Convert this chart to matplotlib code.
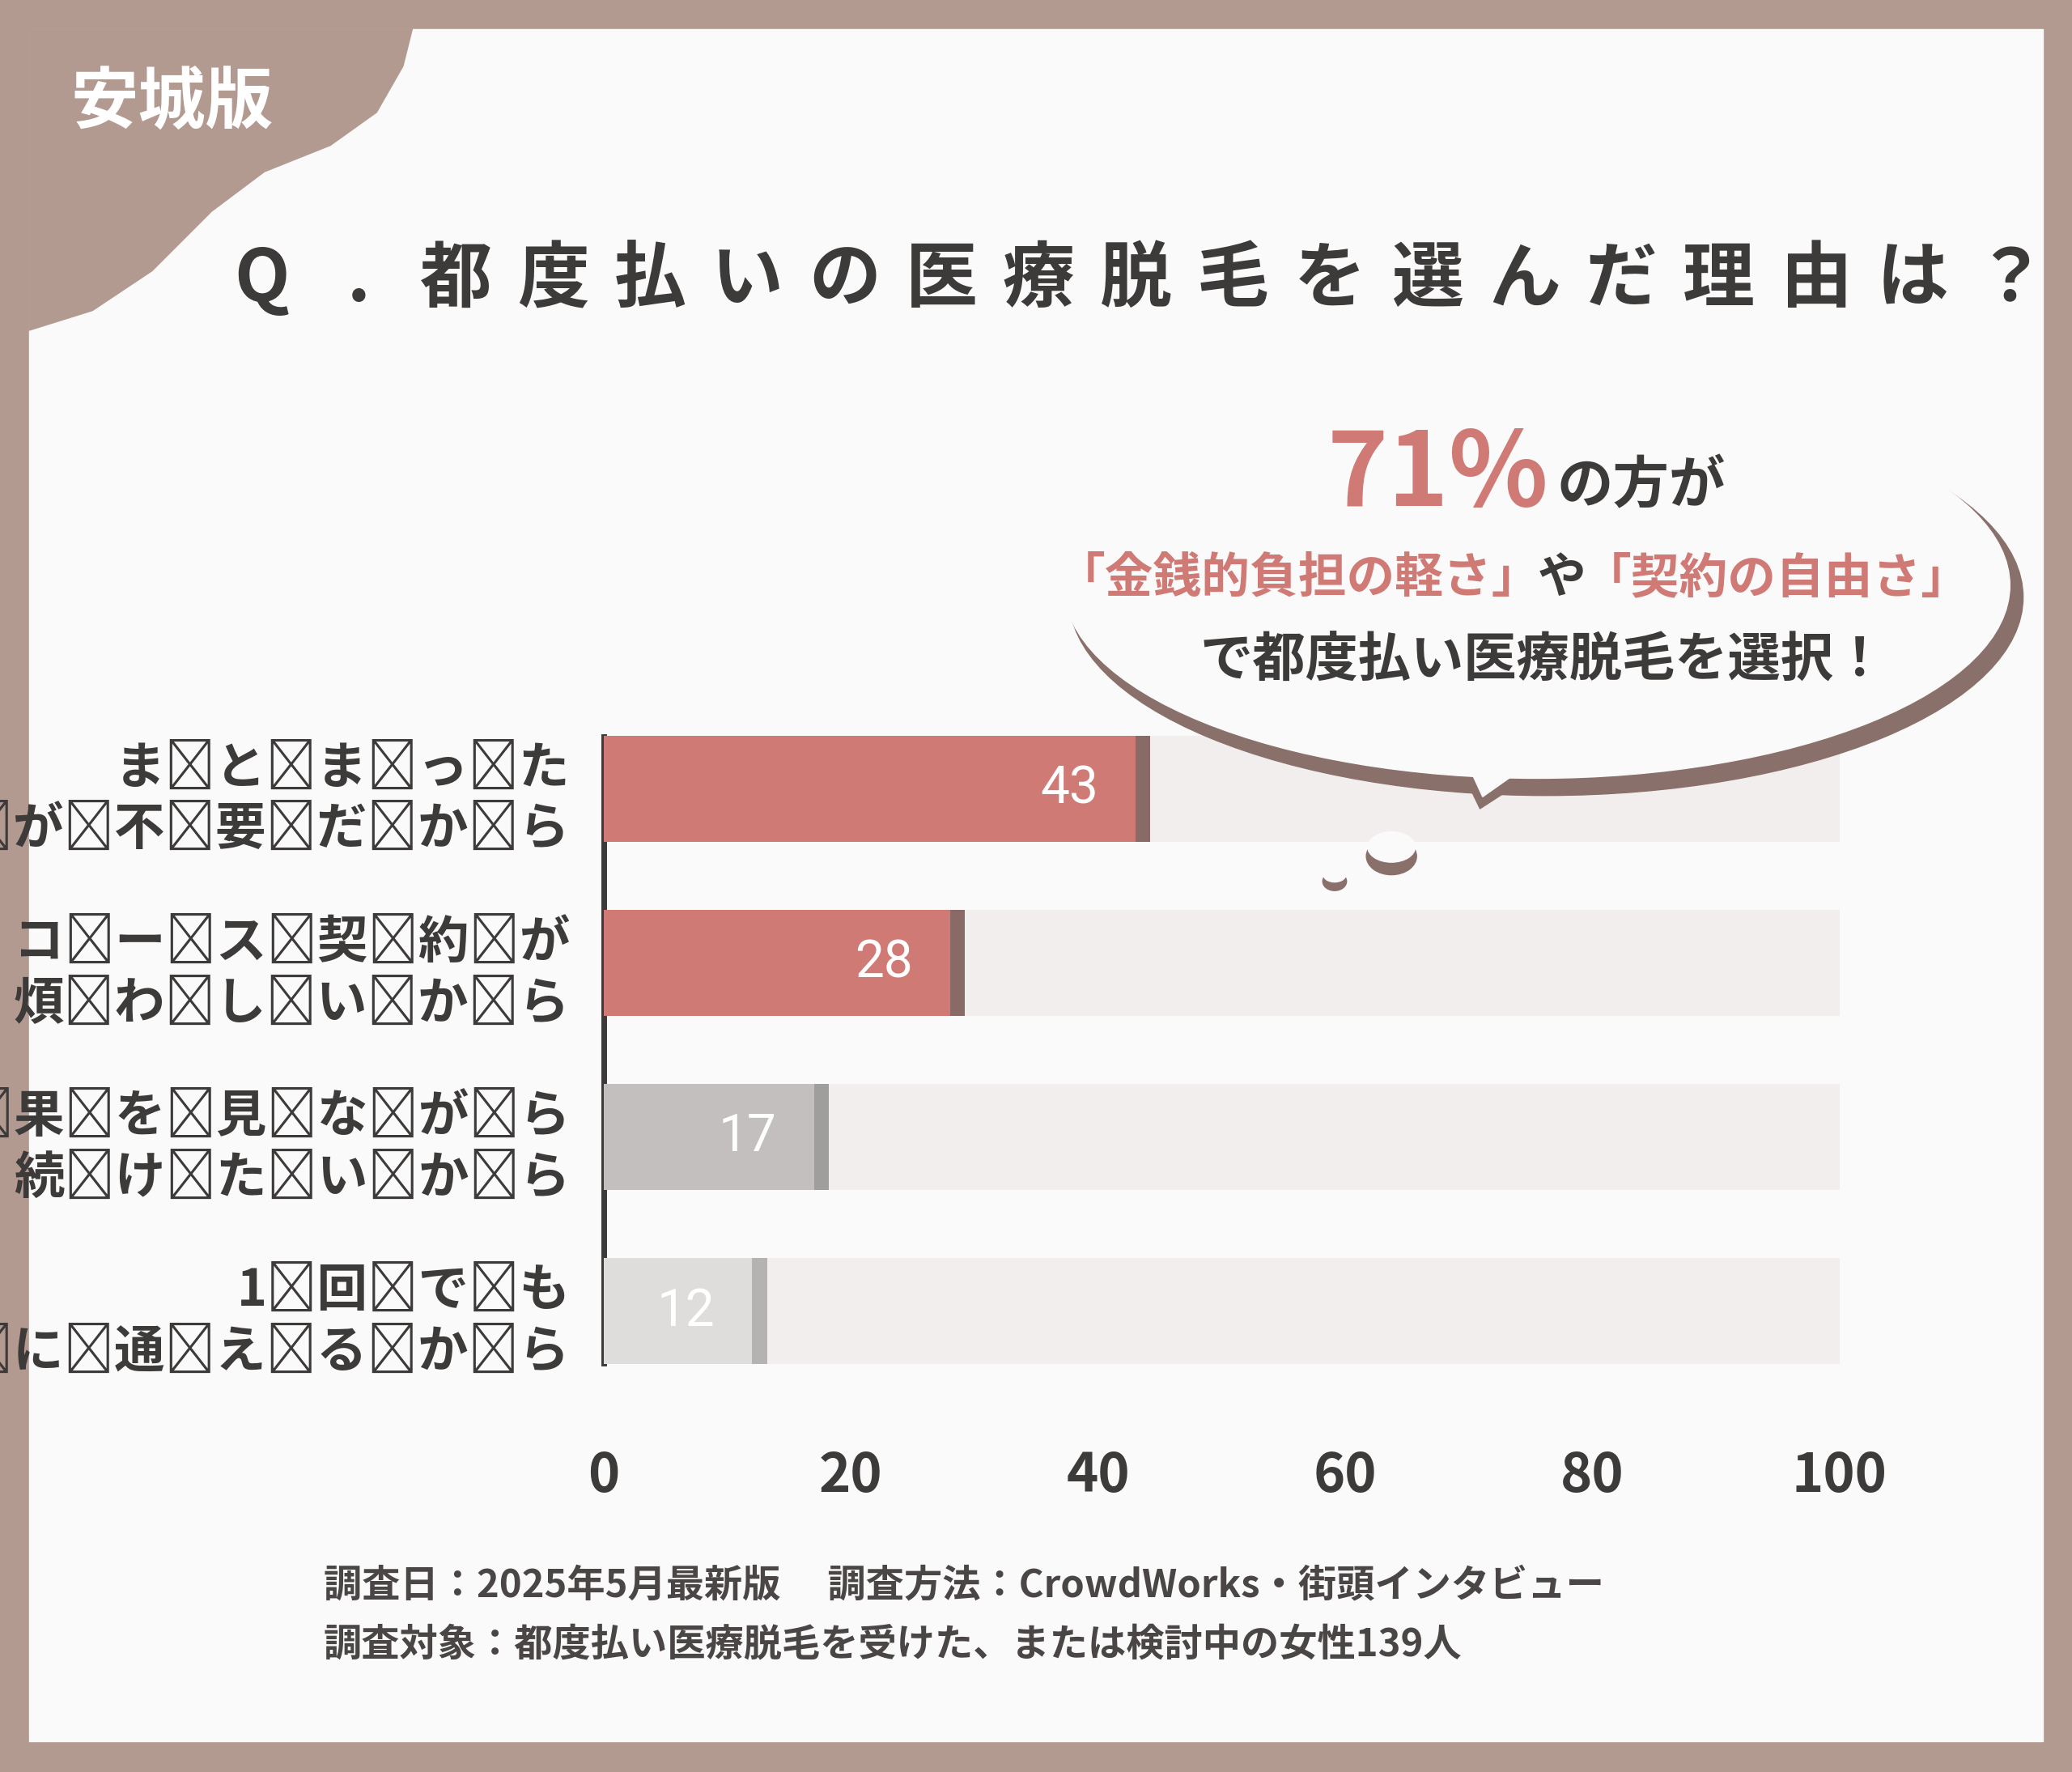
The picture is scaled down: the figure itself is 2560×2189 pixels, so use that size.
import matplotlib
matplotlib.use("Agg")
import matplotlib.pyplot as plt
from matplotlib.patches import Rectangle, Ellipse, Polygon

categories = ["まとまった\nお金が不要だから", "コース契約が\n煩わしいから", "効果を見ながら\n続けたいから", "1回でも\n気軽に通えるから"]
values = [43, 28, 17, 12]
ticks = [0, 20, 40, 60, 80, 100]
bar_colors = ["#d07a76", "#d07a76", "#c2bfbe", "#dedddc"]
shadow_colors = ["#8a6a66", "#8a6a66", "#a09e9d", "#b5b3b2"]
title = "Q.都度払いの医療脱毛を選んだ理由は？"

plt.rcParams["font.family"] = "Noto Sans CJK JP"
W, H = 1568, 1341
DARK = "#3d3a3a"
fig = plt.figure(figsize=(25.6, 21.89), dpi=100)
fig.patch.set_facecolor("#b39a91")

bg = fig.add_axes([0, 0, 1, 1])
bg.set_xlim(0, W); bg.set_ylim(H, 0); bg.axis("off")
bg.add_patch(Rectangle((22, 22), 1524, 1296, color="#fbfafa", zorder=0))
blob = Polygon([(22, 22), (312, 22), (305, 50), (285, 85), (250, 110), (200, 130), (160, 160), (115, 205), (70, 235), (22, 250)],
               closed=True, color="#b39a91", zorder=1)
bg.add_patch(blob)
bg.text(130, 78, "安城版", fontsize=60, fontweight="bold", color="white", ha="center", va="center", zorder=2)
x0, step = 198, 73.5
for k, ch in enumerate(title):
    bg.text(x0 + k * step, 212, ch, fontsize=64, fontweight="bold", color=DARK, ha="center", va="center")

bg.text(245, 1200, "調査日：2025年5月最新版　 調査方法：CrowdWorks・街頭インタビュー", fontsize=34, fontweight="bold",
        color="#4a4646", ha="left", va="center")
bg.text(245, 1245, "調査対象：都度払い医療脱毛を受けた、または検討中の女性139人", fontsize=34, fontweight="bold",
        color="#4a4646", ha="left", va="center")

ax = fig.add_axes([457 / W, 1 - 1058 / H, (1392 - 457) / W, (1058 - 531) / H])
ax.patch.set_alpha(0)
ax.set_xlim(0, 100); ax.set_ylim(3.5, -0.5)
y = list(range(len(values)))
h = 0.61
ax.barh(y, [100.6] * 4, height=h, color="#dcd9d8", zorder=1)
ax.barh(y, [100] * 4, height=h, color="#f1eeed", zorder=2)
ax.barh(y, [v + 1.2 for v in values], height=h, color=shadow_colors, zorder=3)
ax.barh(y, values, height=h, color=bar_colors, zorder=4)
for i, v in enumerate(values):
    ax.text(v - 3, i, str(v), fontsize=46, color="white", ha="right", va="center",
            family="Roboto", zorder=5)
ax.set_yticks(y)
ax.set_yticklabels(["\n".join("\u2009".join(line) for line in c.split("\n")) for c in categories],
                   fontsize=45, fontweight="bold", color=DARK, linespacing=1.25)
ax.set_xticks(ticks)
ax.set_xticklabels([str(t) for t in ticks], fontsize=48, fontweight="bold", color=DARK)
ax.tick_params(length=0, pad=30)
ax.tick_params(axis="x", pad=45)
for s in ["top", "right", "bottom"]:
    ax.spines[s].set_visible(False)
ax.spines["left"].set_linewidth(5)
ax.spines["left"].set_color(DARK)
ax.spines["left"].set_bounds(-0.3, 3.3)

# speech bubble overlay
ov = fig.add_axes([0, 0, 1, 1])
ov.set_xlim(0, W); ov.set_ylim(H, 0); ov.axis("off"); ov.patch.set_alpha(0)
SH = "#8a706b"; WH = "#fbfafa"
ov.add_patch(Ellipse((1170, 452), 722, 300, color=SH, zorder=3))
ov.add_patch(Polygon([(1095, 560), (1200, 560), (1120, 612)], color=SH, zorder=3))
ov.add_patch(Ellipse((1163, 443), 716, 292, color=WH, zorder=4))
ov.add_patch(Polygon([(1100, 555), (1190, 555), (1122, 603)], color=WH, zorder=4))
ov.add_patch(Ellipse((1053, 648), 38, 28, color=SH, zorder=3))
ov.add_patch(Ellipse((1053, 641), 36, 23, color=WH, zorder=4))
ov.add_patch(Ellipse((1010, 667), 18, 14, color=SH, zorder=3))
ov.add_patch(Ellipse((1010, 662), 17, 11, color=WH, zorder=4))
ov.text(1172, 360, "71%", fontsize=92, fontweight="bold", color="#d07a76", ha="right", va="center", zorder=5)
ov.text(1178, 368, "の方が", fontsize=50, fontweight="bold", color=DARK, ha="left", va="center", zorder=5)
ov.text(1166, 438, "「金銭的負担の軽さ」", fontsize=43, fontweight="bold", color="#d07a76", ha="right", va="center", zorder=5)
ov.text(1182, 438, "や", fontsize=43, fontweight="bold", color=DARK, ha="center", va="center", zorder=5)
ov.text(1198, 438, "「契約の自由さ」", fontsize=43, fontweight="bold", color="#d07a76", ha="left", va="center", zorder=5)
ov.text(1168, 500, "で都度払い医療脱毛を選択！", fontsize=47, fontweight="bold", color=DARK, ha="center", va="center", zorder=5)

fig.savefig("out.png", dpi=100, facecolor=fig.get_facecolor())
